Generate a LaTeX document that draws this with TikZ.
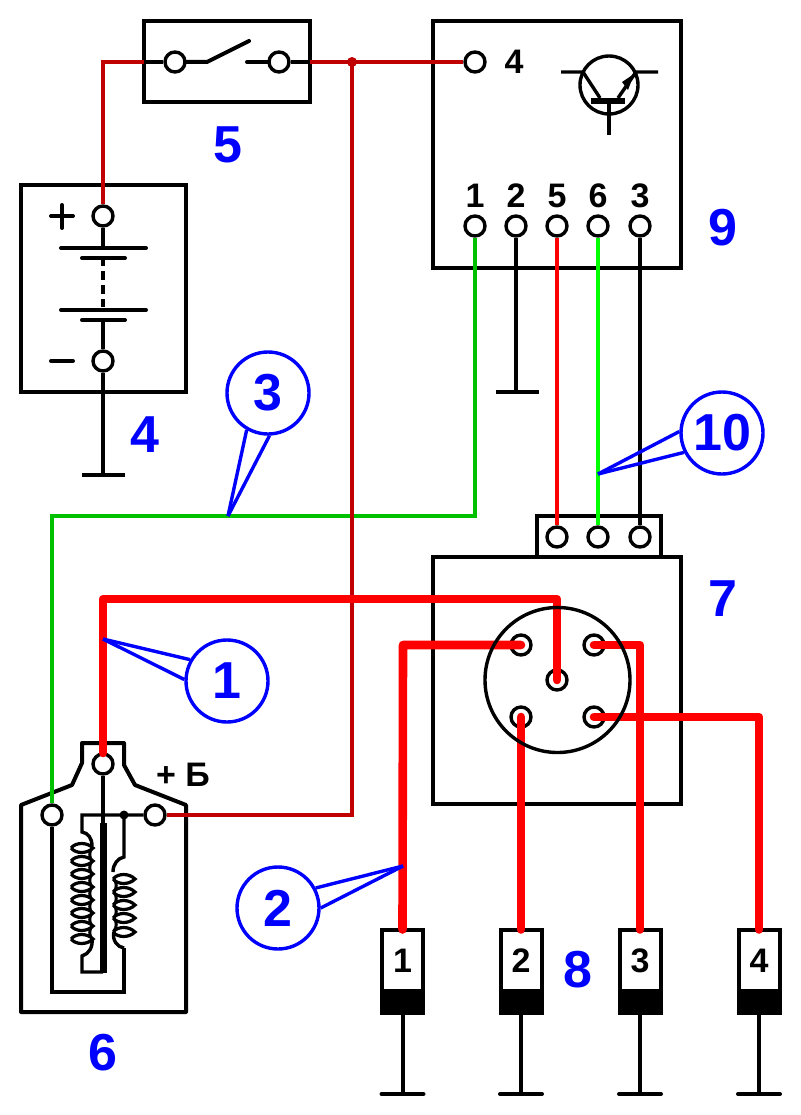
\documentclass[tikz,border=0pt]{standalone}
\usepackage{fontspec}
\setmainfont{Liberation Sans}
\definecolor{bluelab}{RGB}{0,0,255}
\definecolor{wred}{RGB}{255,0,0}
\definecolor{wdark}{RGB}{192,0,0}
\definecolor{wgreen}{RGB}{0,192,0}
\definecolor{wlime}{RGB}{0,255,0}
\tikzset{
  term/.style={circle,draw=black,fill=white,line width=3.4pt,minimum size=20pt,inner sep=0pt},
  boxa/.style={draw=black,fill=white,line width=4pt,inner sep=0pt,outer sep=0pt},
  blk/.style={draw=black,line width=4pt},
  thinblk/.style={draw=black,line width=3.4pt},
  thick red/.style={draw=wred,line width=8.6pt,line join=round},
  rthin/.style={draw=wred,line width=4pt},
  rdark/.style={draw=wdark,line width=4pt},
  ggreen/.style={draw=wgreen,line width=4pt},
  glime/.style={draw=wlime,line width=4pt},
  lab/.style={text=bluelab,font=\fontsize{52}{52}\selectfont\bfseries,inner sep=0pt},
  ring/.style={circle,draw=bluelab,fill=white,line width=3.4pt,minimum size=82pt,inner sep=0pt,text=bluelab,font=\fontsize{52}{52}\selectfont\bfseries},
  ptr/.style={draw=bluelab,line width=3.4pt},
  num/.style={text=black,font=\fontsize{34}{34}\selectfont\bfseries,inner sep=0pt},
}
\begin{document}
\begin{tikzpicture}[x=1pt,y=-1pt]
\useasboundingbox (0,0) rectangle (800,1115);
\fill[white] (0,0) rectangle (800,1115);
% boxes
\node[boxa,minimum width=166pt,minimum height=81pt] (sw) at (227,62) {};
\node[boxa,minimum width=165pt,minimum height=207pt] (bat) at (103.5,288.5) {};
\node[boxa,minimum width=248pt,minimum height=247pt] (ecu) at (557,144.5) {};
\node[boxa,minimum width=124pt,minimum height=41pt] (conn) at (599,536.5) {};
\node[boxa,minimum width=248pt,minimum height=247pt] (mod) at (557,680.5) {};
% coil body
\draw[blk,fill=white,line join=round] (21,805) -- (72,785) -- (82,763) -- (82,743) -- (124,743) -- (124,765) -- (135,785) -- (186,805) -- (186,1012) -- (21,1012) -- cycle;
% terminals
\node[term] (sa) at (175,62) {};
\node[term] (sb) at (279,62) {};
\node[term] (bp) at (103,216) {};
\node[term] (bm) at (103,361) {};
\node[term] (e4) at (475,62) {};
\node[term] (e1) at (475,226) {};
\node[term] (e2) at (516,226) {};
\node[term] (e5) at (557,226) {};
\node[term] (e6) at (598,226) {};
\node[term] (e3) at (640,226) {};
\node[term] (c5) at (557,537) {};
\node[term] (c6) at (598,537) {};
\node[term] (c3) at (640,537) {};
\node[term] (m1) at (521,645) {};
\node[term] (m2) at (594,645) {};
\node[term] (m0) at (557,680) {};
\node[term] (m3) at (521,717) {};
\node[term] (m4) at (594,717) {};
\node[term] (ca) at (103,764) {};
\node[term] (cb) at (52,815) {};
\node[term] (cc) at (155,815) {};
% switch
\draw[blk] (sw.west) -- (sa);
\draw[blk] (sb) -- (sw.east);
\draw[blk,line cap=round] (sa) -- (207,62) -- (249,41);
\draw[blk,line cap=round] (247,62) -- (sb);
% battery
\draw[blk,line cap=round] (61,248) -- (146,248);
\draw[blk,line cap=round] (82,258) -- (125,258);
\draw[blk,line cap=round] (61,310) -- (146,310);
\draw[blk,line cap=round] (82,320) -- (125,320);
\draw[blk] (bp) -- (103,248);
\draw[blk,dash pattern=on 8.5pt off 5.5pt] (103,257) -- (103,307);
\draw[blk] (103,320) -- (bm);
\draw[blk,line cap=round] (51,216) -- (73,216);
\draw[blk,line cap=round] (62,205) -- (62,228);
\draw[blk,line cap=round] (51,361) -- (73,361);
\coordinate (gnda) at (103,475);
\draw[blk] (bm) -- (gnda);
\draw[blk] (82,475) -- (125,475);
% ecu
\node[num] at (514,62) {4};
\node[num] at (475,196) {1};
\node[num] at (516,196) {2};
\node[num] at (557,196) {5};
\node[num] at (598,196) {6};
\node[num] at (640,196) {3};
\draw[thinblk] (609,85) circle[radius=29pt];
\draw[thinblk] (561,72) -- (583,72) -- (600,98);
\draw[thinblk] (658,72) -- (636,72) -- (618,98);
\fill[black] (634,74) -- (622,82) -- (628,90) -- cycle;
\draw[draw=black,line width=6pt] (591,101) -- (625,101);
\draw[thinblk] (609,101) -- (609,135);
% module signal wires
\coordinate (gndb) at (516,392);
\draw[blk] (e2) -- (gndb);
\draw[blk] (496,392) -- (539,392);
\draw[rthin] (e5) -- (c5);
\draw[glime] (e6) -- (c6);
\draw[blk] (e3) -- (c3);
\coordinate (g1) at (475,516);
\coordinate (g2) at (52,516);
\draw[ggreen] (e1) -- (g1) -- (g2) -- (cb);
% main supply
\coordinate (jn) at (352,62);
\coordinate (jd) at (352,815);
\draw[rdark] (sw.east) -- (e4);
\draw[rdark] (bp) |- (sw.west);
\draw[rdark] (cc) -- (jd) -- (jn);
\fill[wdark] (jn) circle[radius=5pt];
% coil internals
\draw[thinblk] (cb) -- (52,992) -- (124,992) -- (124,948);
\draw[thinblk] (ca) -- (103,823);
\draw[thinblk] (cc) -- (82,815) -- (82,832) .. controls (88,833) and (92,838) .. (92,846);
\fill[black] (124,815) circle[radius=4.5pt];
\draw[thinblk] (124,815) -- (124,857) .. controls (118,858) and (113,864) .. (113,872);
\draw[draw=black,line width=7pt] (103,823) -- (103,973);
\foreach \yy in {848,861,874,887,900,913,926,939}{
  \draw[draw=black,line width=3.2pt] (71,\yy) .. controls (76,\yy-6) and (87,\yy-6) .. (93,\yy) .. controls (87,\yy+6) and (76,\yy+6) .. (71,\yy);
}
\foreach \yy in {848,861,874,887,900,913,926}{
  \draw[draw=black,line width=3pt] (92,\yy) .. controls (89,\yy+4) and (89,\yy+9) .. (92,\yy+13);
}
\draw[thinblk] (92,939) .. controls (93,947) and (89,954) .. (82,956) -- (82,972) -- (103,972);
\foreach \yy in {879,892,905,918,932}{
  \draw[draw=black,line width=3.2pt] (113,\yy) .. controls (118,\yy-6) and (129,\yy-6) .. (135,\yy) .. controls (129,\yy+6) and (118,\yy+6) .. (113,\yy);
}
\foreach \yy in {879,892,905,918}{
  \draw[draw=black,line width=3pt] (114,\yy) .. controls (117,\yy+4) and (117,\yy+9) .. (114,\yy+13);
}
\draw[thinblk] (114,932) .. controls (112,940) and (117,947) .. (124,948);
\node[num] at (183,775) {+ Б};
% plugs
\foreach \nm/\xx/\lb in {pa/402.5/1,pb/521/2,pc/640/3,pd/759/4}{
  \node[boxa,minimum width=41pt,minimum height=83pt] (\nm) at (\xx,971) {};
  \fill[black] (\xx-22.5,989) rectangle (\xx+22.5,1014);
  \node[num] at (\xx,960.5) {\lb};
  \coordinate (\nm g) at (\xx,1094);
  \draw[blk] (\nm.south) -- (\nm g);
  \draw[blk,line cap=round] (\xx-21,1094) -- (\xx+21,1094);
}
% thick red
\coordinate (ra) at (103,599);
\coordinate (rb) at (557,599);
\draw[thick red,line cap=round,shorten <=11pt] (ca.center) -- (ra) -- (rb) -- (m0.center);
\draw[thick red,line cap=round] (m1.center) -- (403,645) -- (pa.north);
\draw[thick red,line cap=round] (m3.center) -- (pb.north);
\draw[thick red,line cap=round] (m2.center) -- (640,645) -- (pc.north);
\draw[thick red,line cap=round] (m4.center) -- (759,717) -- (pd.north);
\node[circle,draw=black,line width=3.4pt,minimum size=145pt,inner sep=0pt] (mc) at (557.5,680) {};
% blue labels
\node[lab] at (228,145) {5};
\node[lab] at (145,435) {4};
\node[lab] at (723,228) {9};
\node[lab] at (723,599) {7};
\node[lab] at (578,970) {8};
\node[lab] at (103,1053) {6};
\coordinate (p3) at (228,516);
\coordinate (p10) at (598,474);
\coordinate (p1) at (103,639);
\coordinate (p2) at (403,866);
\node[ring] (r3) at (268,393) {};
\node[ring] (r10) at (722,433) {};
\node[ring] (r1) at (227,681) {};
\node[ring] (r2) at (278,908) {};
\draw[ptr] (p3) -- (r3.240);
\draw[ptr] (p3) -- (r3.272);
\draw[ptr] (p10) -- (r10.178);
\draw[ptr] (p10) -- (r10.207);
\draw[ptr] (p1) -- (r1.150);
\draw[ptr] (p1) -- (r1.178);
\draw[ptr] (p2) -- (r2.0);
\draw[ptr] (p2) -- (r2.28);
\node[lab] at (r3) {3};
\node[lab] at (r10) {10};
\node[lab] at (r1) {1};
\node[lab] at (r2) {2};
\end{tikzpicture}
\end{document}
